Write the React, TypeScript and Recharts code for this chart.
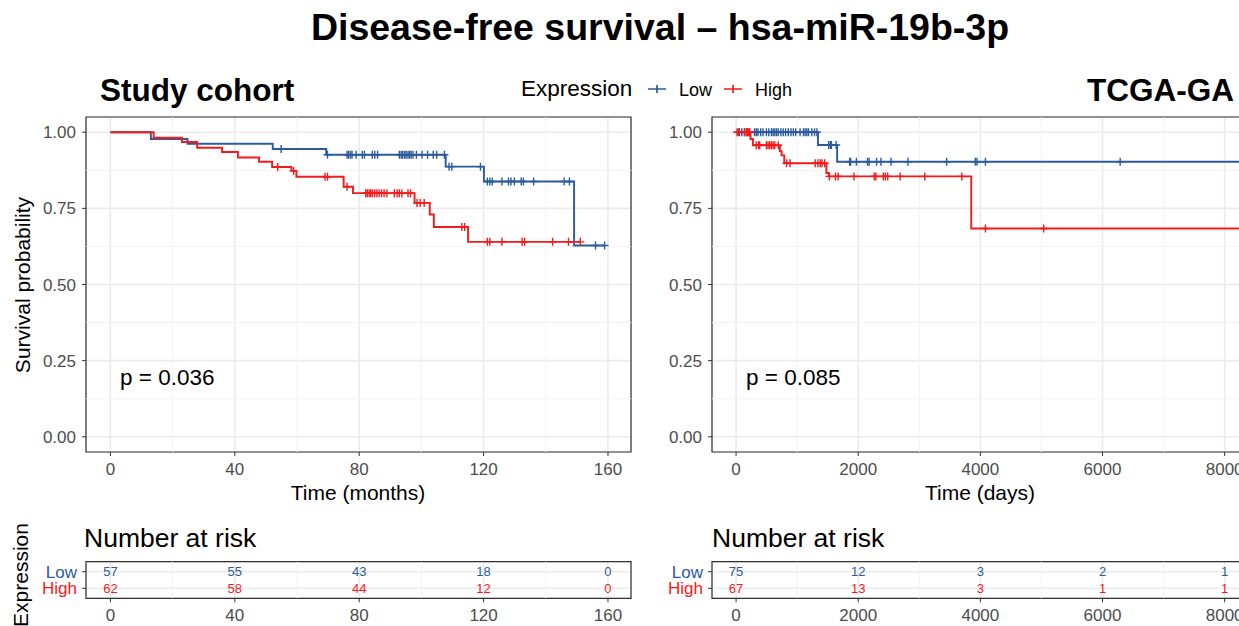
import React from 'react';
import { LineChart, Line, XAxis, YAxis, CartesianGrid, ReferenceLine, ReferenceArea } from 'recharts';

const FONT = '"Liberation Sans", Arial, Helvetica, sans-serif';
const BLUE = '#2B5B9C';
const RED = '#F21B1B';
const GRID = '#EBEBEB';
const MINOR = '#F3F3F3';
const BORDER = '#333333';
const TICK_TEXT = '#4D4D4D';

// Study cohort (months): [time, survival after event], censor times
const studyLowEvents: [number, number][] = [
  [13.0, 0.978], [24.8, 0.962], [52.2, 0.945], [69.4, 0.926], [107.8, 0.887], [120.1, 0.838], [149.1, 0.628],
];
const studyLowCensored = [
  54.9, 69.8, 76.1, 76.6, 77.2, 77.7, 79.0, 81.0, 81.7, 84.2, 85.0, 85.9, 92.9, 93.5, 94.0, 94.6, 95.1, 95.7,
  96.2, 96.7, 97.3, 98.4, 100.2, 102.0, 103.8, 104.9, 107.4, 108.9, 109.8, 119.0, 121.2, 122.0, 122.8, 125.9,
  128.0, 128.8, 129.9, 132.1, 132.8, 136.1, 145.9, 147.6, 156.0, 158.9,
];
const studyHighEvents: [number, number][] = [
  [13.9, 0.982], [23.0, 0.968], [27.9, 0.949], [35.9, 0.935], [41.0, 0.917], [47.8, 0.903], [52.0, 0.886],
  [58.2, 0.873], [59.8, 0.854], [75.0, 0.821], [78.0, 0.8], [97.8, 0.768], [102.7, 0.73], [104.0, 0.689],
  [115.0, 0.64],
];
const studyHighCensored = [
  53.8, 58.9, 69.0, 69.8, 76.1, 82.1, 82.6, 83.2, 83.7, 84.2, 85.0, 85.7, 86.4, 87.2, 88.0, 88.9, 91.3, 92.2,
  92.9, 93.7, 95.7, 96.5, 98.6, 99.6, 100.9, 113.0, 113.9, 121.2, 122.0, 125.9, 132.4, 133.2, 142.2, 147.3, 151.1,
];

// TCGA-GA (days)
const tcgaLowEvents: [number, number][] = [[1341, 0.958], [1655, 0.903]];
const tcgaLowCensored = [
  55, 94, 138, 182, 221, 303, 331, 359, 403, 441, 497, 535, 579, 607, 634, 662, 690, 734, 772, 811, 855, 899,
  938, 976, 1048, 1103, 1131, 1159, 1186, 1241, 1285, 1324, 1517, 1545, 1561, 1639, 1859, 1876, 1970, 2152,
  2179, 2301, 2372, 2538, 2814, 3448, 3917, 3945, 4083, 6289,
];
const tcgaHighEvents: [number, number][] = [
  [237, 0.978], [276, 0.957], [717, 0.938], [745, 0.924], [789, 0.898], [1479, 0.866], [1517, 0.855], [3851, 0.684],
];
const tcgaHighCensored = [
  17, 39, 138, 166, 182, 204, 221, 331, 370, 386, 497, 524, 552, 579, 607, 634, 690, 828, 883, 1296, 1341, 1379,
  1407, 1451, 1528, 1628, 1672, 1931, 2262, 2290, 2411, 2444, 2483, 2687, 3090, 3696, 4083, 5037,
];

// risk tables
const studyRiskTimes = [0, 40, 80, 120, 160];
const studyRiskLow = [57, 55, 43, 18, 0];
const studyRiskHigh = [62, 58, 44, 12, 0];
const tcgaRiskTimes = [0, 2000, 4000, 6000, 8000];
const tcgaRiskLow = [75, 12, 3, 2, 1];
const tcgaRiskHigh = [67, 13, 3, 1, 1];

const studyMinor = [20, 60, 100, 140];
const tcgaMinor = [1000, 3000, 5000, 7000];
const survTicks = [0, 0.25, 0.5, 0.75, 1];
const survMinor = [0.125, 0.375, 0.625, 0.875];

type Pt = { t: number; s: number; c: boolean };

function buildCurve(events: [number, number][], censored: number[], end: number): Pt[] {
  const all = [
    ...events.map(([t, s]) => ({ t, s, c: false })),
    ...censored.map((t) => ({ t, s: 1, c: true })),
  ].sort((a, b) => a.t - b.t);
  const pts: Pt[] = [{ t: 0, s: 1, c: false }];
  let level = 1;
  for (const p of all) {
    if (!p.c) level = p.s;
    pts.push({ t: p.t, s: level, c: p.c });
  }
  pts.push({ t: end, s: level, c: false });
  return pts;
}

const censorDot = (color: string) => (props: any) => {
  const { cx, cy, payload, index } = props;
  if (!payload || !payload.c || cx == null) return <g key={`n${index}`} />;
  return (
    <path
      key={`c${index}`}
      d={`M${cx},${cy - 4}V${cy + 4}M${cx - 4},${cy}H${cx + 4}`}
      stroke={color}
      strokeWidth={1.4}
      fill="none"
    />
  );
};

const riskText = (color: string) => (props: any) => {
  const { cx, cy, payload, index } = props;
  return (
    <text key={`r${index}`} x={cx} y={cy} dy={4.5} textAnchor="middle" fill={color} fontSize={13} fontFamily={FONT}>
      {payload.n}
    </text>
  );
};

function SurvivalPanel(props: {
  left: number; width: number; domain: [number, number]; ticks: number[]; minor: number[];
  low: Pt[]; high: Pt[];
}) {
  const { left, width, domain, ticks, minor, low, high } = props;
  return (
    <div style={{ position: 'absolute', left, top: 100 }}>
      <LineChart width={width} height={420} margin={{ top: 17, right: 19, left: 36, bottom: 8 }}>
        <CartesianGrid stroke={GRID} strokeWidth={1.6} />
        {minor.map((m) => (
          <ReferenceLine key={`mx${m}`} x={m} stroke={MINOR} strokeWidth={1} />
        ))}
        {survMinor.map((m) => (
          <ReferenceLine key={`my${m}`} y={m} stroke={MINOR} strokeWidth={1} />
        ))}
        <XAxis
          dataKey="t" type="number" domain={domain} ticks={ticks} allowDataOverflow interval={0}
          height={60} tickSize={4} tickMargin={7} axisLine={false}
          tickLine={{ stroke: BORDER }} tick={{ fill: TICK_TEXT, fontSize: 17, fontFamily: FONT }}
        />
        <YAxis
          type="number" domain={[-0.05, 1.05]} ticks={survTicks} allowDataOverflow interval={0}
          width={50} tickSize={4} tickMargin={6} axisLine={false}
          tickFormatter={(v: number) => v.toFixed(2)}
          tickLine={{ stroke: BORDER }} tick={{ fill: TICK_TEXT, fontSize: 17, fontFamily: FONT }}
        />
        <Line data={low} dataKey="s" type="stepAfter" stroke={BLUE} strokeWidth={1.9}
          dot={censorDot(BLUE)} activeDot={false} isAnimationActive={false} />
        <Line data={high} dataKey="s" type="stepAfter" stroke={RED} strokeWidth={1.9}
          dot={censorDot(RED)} activeDot={false} isAnimationActive={false} />
        <ReferenceArea x1={domain[0]} x2={domain[1]} y1={-0.05} y2={1.05} fill="none" fillOpacity={0}
          stroke={BORDER} strokeWidth={1.2} ifOverflow="visible" />
      </LineChart>
    </div>
  );
}

function RiskTable(props: {
  left: number; width: number; domain: [number, number]; ticks: number[]; minor: number[];
  low: number[]; high: number[];
}) {
  const { left, width, domain, ticks, minor, low, high } = props;
  const lowRow = ticks.map((t, i) => ({ t, y: 2, n: low[i] }));
  const highRow = ticks.map((t, i) => ({ t, y: 1, n: high[i] }));
  return (
    <div style={{ position: 'absolute', left, top: 540 }}>
      <LineChart width={width} height={86} margin={{ top: 21.7, right: 19, left: 36, bottom: 0 }}>
        <CartesianGrid stroke={GRID} strokeWidth={1.6} />
        {minor.map((m) => (
          <ReferenceLine key={`rx${m}`} x={m} stroke={MINOR} strokeWidth={1} />
        ))}
        <XAxis
          dataKey="t" type="number" domain={domain} ticks={ticks} allowDataOverflow interval={0}
          height={27.7} tickSize={4} tickMargin={7} axisLine={false}
          tickLine={{ stroke: BORDER }} tick={{ fill: TICK_TEXT, fontSize: 17, fontFamily: FONT }}
        />
        <YAxis
          type="number" domain={[0.4, 2.6]} ticks={[1, 2]} interval={0} width={50} tickSize={4}
          axisLine={false} tickLine={{ stroke: BORDER }}
          tick={(p: any) => (
            <text key={`yt${p.payload.value}`} x={p.x - 3} y={p.y} dy={6} textAnchor="end"
              fill={p.payload.value === 2 ? BLUE : RED} fontSize={17} fontFamily={FONT}>
              {p.payload.value === 2 ? 'Low' : 'High'}
            </text>
          )}
        />
        <Line data={lowRow} dataKey="y" stroke="none" dot={riskText(BLUE)} activeDot={false}
          isAnimationActive={false} legendType="none" />
        <Line data={highRow} dataKey="y" stroke="none" dot={riskText(RED)} activeDot={false}
          isAnimationActive={false} legendType="none" />
        <ReferenceArea x1={domain[0]} x2={domain[1]} y1={0.4} y2={2.6} fill="none" fillOpacity={0}
          stroke={BORDER} strokeWidth={1.2} ifOverflow="visible" />
      </LineChart>
    </div>
  );
}

const txt = (left: number, top: number, size: number, text: string, extra: React.CSSProperties = {}) => (
  <div style={{ position: 'absolute', left, top, fontSize: size, lineHeight: 1, whiteSpace: 'nowrap', ...extra }}>
    {text}
  </div>
);

const rotated = (cx: number, cy: number, size: number, text: string) => (
  <div style={{
    position: 'absolute', left: cx, top: cy, fontSize: size, lineHeight: 1, whiteSpace: 'nowrap',
    transform: 'translate(-50%, -50%) rotate(-90deg)',
  }}>
    {text}
  </div>
);

const LegendKey = ({ left, color }: { left: number; color: string }) => (
  <svg style={{ position: 'absolute', left, top: 80 }} width={20} height={18}>
    <path d="M1,9H19M10,5V13" stroke={color} strokeWidth={1.7} fill="none" />
  </svg>
);

export default function App() {
  const studyLow = buildCurve(studyLowEvents, studyLowCensored, 158.9);
  const studyHigh = buildCurve(studyHighEvents, studyHighCensored, 151.1);
  const tcgaLow = buildCurve(tcgaLowEvents, tcgaLowCensored, 8700);
  const tcgaHigh = buildCurve(tcgaHighEvents, tcgaHighCensored, 8700);

  return (
    <div style={{
      position: 'fixed', left: 0, top: 0, width: 1239, height: 626, overflow: 'hidden',
      background: '#ffffff', fontFamily: FONT, color: '#000',
    }}>
      <div style={{
        position: 'absolute', left: 0, width: 1320, top: 9, textAlign: 'center', fontSize: 37.5,
        fontWeight: 700, lineHeight: 1,
      }}>
        Disease-free survival – hsa-miR-19b-3p
      </div>
      {txt(100, 75, 31.5, 'Study cohort', { fontWeight: 700 })}
      {txt(1087, 75, 31.5, 'TCGA-GA', { fontWeight: 700 })}

      {txt(521, 77.5, 22.5, 'Expression')}
      <LegendKey left={647} color={BLUE} />
      {txt(679, 80.5, 18, 'Low')}
      <LegendKey left={723} color={RED} />
      {txt(755, 80.5, 18, 'High')}

      <SurvivalPanel left={0} width={650} domain={[-7.85, 167.4]} ticks={studyRiskTimes}
        minor={studyMinor} low={studyLow} high={studyHigh} />
      <SurvivalPanel left={626} width={635} domain={[-394, 8284]} ticks={tcgaRiskTimes}
        minor={tcgaMinor} low={tcgaLow} high={tcgaHigh} />

      {rotated(22, 285, 21, 'Survival probability')}
      {txt(0, 482, 21, 'Time (months)', { width: 716, textAlign: 'center' })}
      {txt(626, 482, 21, 'Time (days)', { width: 708, textAlign: 'center' })}
      {txt(120, 367, 22.5, 'p = 0.036')}
      {txt(746, 367, 22.5, 'p = 0.085')}

      {txt(84, 525, 26.5, 'Number at risk')}
      {txt(712, 525, 26.5, 'Number at risk')}
      {rotated(20, 575, 21, 'Expression')}

      <RiskTable left={0} width={650} domain={[-7.85, 167.4]} ticks={studyRiskTimes}
        minor={studyMinor} low={studyRiskLow} high={studyRiskHigh} />
      <RiskTable left={626} width={635} domain={[-394, 8284]} ticks={tcgaRiskTimes}
        minor={tcgaMinor} low={tcgaRiskLow} high={tcgaRiskHigh} />
    </div>
  );
}
